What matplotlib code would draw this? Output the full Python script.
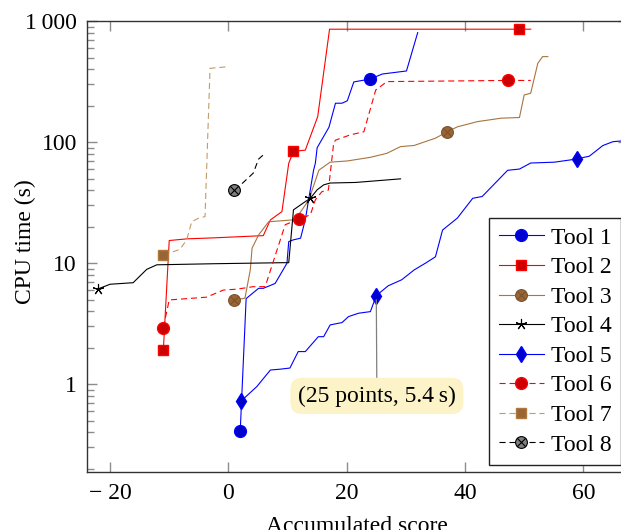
import matplotlib
matplotlib.use("Agg")
import matplotlib.pyplot as plt
from matplotlib.path import Path
from matplotlib.ticker import FixedLocator, FixedFormatter, LogLocator, NullFormatter
import numpy as np

# ---------------- data ----------------
tool1_x = [2, 3, 5.1, 5.9, 7.9, 9.9, 10.2, 11, 12.2, 13, 14.4, 14.7, 15, 17, 18.1, 19.2, 20.1, 21.2, 24, 26, 30.1, 32]
tool1_y = [0.41, 5.1, 6.2, 6.2, 6.8, 10, 15.1, 15.6, 16.1, 22.9, 58.8, 67, 90, 133, 210, 210, 220, 315, 333, 366, 388, 805]

tool2_x = [-11, -10, -7, -2.5, 5.9, 7.1, 9.05, 10.2, 11, 13, 15.1, 17.1, 49.2, 51.1]
tool2_y = [1.9, 15.4, 15.9, 16.2, 16.9, 22.8, 26.7, 67, 84, 86, 163, 859, 859, 859]

tool3_x = [1.0, 2.8, 3.7, 4.0, 5.1, 6.8, 11.3, 13.6, 15.3, 17.2, 20.1, 24.0, 26.8, 29.1, 31.4, 35.0, 37.0, 38.7, 42.1, 46.1, 49.2, 50.0, 51.1, 52.3, 53.1, 54.0]
tool3_y = [4.97, 5.14, 8.8, 13.3, 17.1, 22.0, 22.9, 33.4, 58.8, 68.4, 70, 75, 81, 92, 94, 108, 122, 134, 148, 158, 160, 246, 254, 449, 510, 510]

tool4_x = [-22, -20, -16.1, -13.8, -12.1, -2.5, 9.3, 10.2, 11.0, 13.0, 13.85, 15.0, 16.1, 17.2, 21.5, 29.1]
tool4_y = [6.14, 6.7, 6.9, 8.9, 9.7, 9.9, 10.1, 10.1, 27.6, 32.3, 34.4, 40.4, 44.4, 46, 46.5, 49.8]

tool5_x = [2.2, 4.8, 7.1, 8.7, 10.4, 11.8, 13.0, 15.2, 16.1, 17.2, 19.2, 20.3, 22.0, 24.0, 25.0, 27.0, 29.3, 31.4, 33.3, 35.0, 36.2, 38.7, 41.3, 42.9, 47.2, 49.2, 51.1, 55.1, 57.9, 59.0, 61.0, 63.3, 65.0, 67.0]
tool5_y = [0.73, 0.955, 1.31, 1.33, 1.36, 1.86, 1.86, 2.47, 2.47, 3.09, 3.23, 3.62, 3.86, 3.98, 5.4, 6.5, 7.3, 8.8, 10.0, 11.3, 18.8, 23.6, 34.4, 35.6, 58.6, 60, 67.3, 68.4, 71.5, 73, 76.6, 93.9, 101, 103]

tool6_x = [-11, -10, -3.7, -0.85, 1.4, 4.2, 6.2, 6.5, 9.6, 12.0, 13.85, 14.7, 15.8, 16.9, 17.8, 18.1, 20.6, 22.9, 24.9, 26.8, 47.2, 51.1]
tool6_y = [2.94, 4.97, 5.24, 6.0, 6.1, 6.4, 6.4, 7.06, 20.8, 23.2, 25.1, 33.4, 39, 40.2, 98.5, 104, 115, 122, 270, 317, 324, 324]

tool7_x = [-11, -8.2, -7.05, -6.2, -5.1, -3.95, -3.1, -0.3]
tool7_y = [11.7, 13.0, 15.6, 22.0, 23.5, 24.3, 408, 420]

tool8_x = [1.0, 2.5, 4.2, 5.1, 5.9]
tool8_y = [40.3, 46.4, 55.5, 72.5, 78.6]

labels = ["Tool 1", "Tool 2", "Tool 3", "Tool 4", "Tool 5", "Tool 6", "Tool 7", "Tool 8"]
x_ticks = [-20, 0, 20, 40, 60]
x_ticklabels = ["\u2212 20", "0", "20", "40", "60"]
y_ticks = [1, 10, 100, 1000]
y_ticklabels = ["1", "10", "100", "1\u2009000"]
annot_text = "(25 points, 5.4\u2009s)"
annot_point = (25, 5.4)

# ---------------- style ----------------
plt.rcParams['font.family'] = ['Liberation Serif', 'DejaVu Serif']
FS = 17

W, H = 621, 530
fig = plt.figure(figsize=(W / 100, H / 100), dpi=100)
ax_l, ax_r, ax_t, ax_b = 86.7, 628.0, 20.7, 472.3
ax = fig.add_axes([ax_l / W, 1 - ax_b / H, (ax_r - ax_l) / W, (ax_b - ax_t) / H])

circ = Path.unit_circle()
otimes = Path.make_compound_path(
    circ,
    Path([[-0.707, -0.707], [0.707, 0.707]]),
    Path([[-0.707, 0.707], [0.707, -0.707]]),
)

BLUE, RED, BLACK = "#0000ff", "#ff0000", "#000000"
BROWN_SOLID, BROWN_DASH = "#a87440", "#c39a6c"
DASH = (5.5, 3.5)

series = [
    (tool1_x, tool1_y, dict(color=BLUE, marker='o', mfc="#0000cc", mec=BLUE, ms=8.5, markevery=[0, 18])),
    (tool2_x, tool2_y, dict(color=RED, marker='s', mfc="#cc0000", mec=RED, ms=7.5, markevery=[0, 8, 12])),
    (tool3_x, tool3_y, dict(color=BROWN_SOLID, marker=otimes, mfc="#996633", mec="#7a5230", ms=8.5, mew=0.8, markevery=[0, 16])),
    (tool4_x, tool4_y, dict(color=BLACK, marker=(5, 2, 0), mfc=BLACK, mec=BLACK, ms=8, mew=0.8, markevery=[0, 10])),
    (tool5_x, tool5_y, dict(color=BLUE, marker='d', mfc="#0000cc", mec=BLUE, ms=8.5, markevery=[0, 14, 29])),
    (tool6_x, tool6_y, dict(color=RED, marker='o', mfc="#cc0000", mec=RED, ms=8.5, markevery=[0, 9, 20], dashes=DASH)),
    (tool7_x, tool7_y, dict(color=BROWN_DASH, marker='s', mfc="#996633", mec="#b07840", ms=7.5, markevery=[0], dashes=DASH)),
    (tool8_x, tool8_y, dict(color=BLACK, marker=otimes, mfc="#808080", mec=BLACK, ms=8.5, mew=0.8, markevery=[0], dashes=DASH)),
]

handles = []
for (xs, ys, st), lab in zip(series, labels):
    st = dict(st)
    st.setdefault('mew', 1.0)
    ln, = ax.plot(xs, ys, lw=0.8, label=lab, **st)
    handles.append(ln)

ax.set_yscale('log')
ax.set_xlim(-23.95, (ax_r - 228.4) / 5.916)
ax.set_ylim(0.187, 1010)

ax.xaxis.set_major_locator(FixedLocator(x_ticks))
ax.xaxis.set_major_formatter(FixedFormatter(x_ticklabels))
ax.yaxis.set_major_locator(FixedLocator(y_ticks))
ax.yaxis.set_major_formatter(FixedFormatter(y_ticklabels))
ax.yaxis.set_minor_locator(LogLocator(base=10, subs=np.arange(2, 10)))
ax.yaxis.set_minor_formatter(NullFormatter())
ax.xaxis.set_minor_locator(FixedLocator([]))

ax.tick_params(which='both', direction='in', top=True, right=True, color='#8c8c8c', width=1.0,
               labelsize=FS, pad=7)
ax.tick_params(which='major', length=7.5)
ax.tick_params(which='minor', length=5)
ax.tick_params(axis='x', pad=7.5)
for s in ax.spines.values():
    s.set_color('#333333')
    s.set_linewidth(1.0)

ax.set_xlabel("Accumulated score", fontsize=FS, labelpad=9)
ax.set_ylabel("CPU time (s)", fontsize=FS)
ax.yaxis.set_label_coords((36 - ax_l) / (ax_r - ax_l), (ax_b - 242) / (ax_b - ax_t))

ax.annotate(annot_text, xy=annot_point, xytext=(25.1, 0.80), fontsize=FS,
            ha='center', va='center',
            bbox=dict(boxstyle="round,pad=0.32,rounding_size=0.5", fc="#fcf3c8", ec="none"),
            arrowprops=dict(arrowstyle='-', color='#808080', lw=0.9, shrinkA=0, shrinkB=3))

leg = fig.legend(handles=handles, loc='lower right', bbox_to_anchor=(1.0, 1 - 465 / H),
                 bbox_transform=fig.transFigure, fontsize=FS, frameon=True, fancybox=False,
                 edgecolor='#222222', framealpha=1, borderaxespad=0, handlelength=1.9,
                 handletextpad=0.3, labelspacing=0.34, borderpad=0.4)
leg.get_frame().set_linewidth(1.0)

fig.savefig("out.png", dpi=100)
